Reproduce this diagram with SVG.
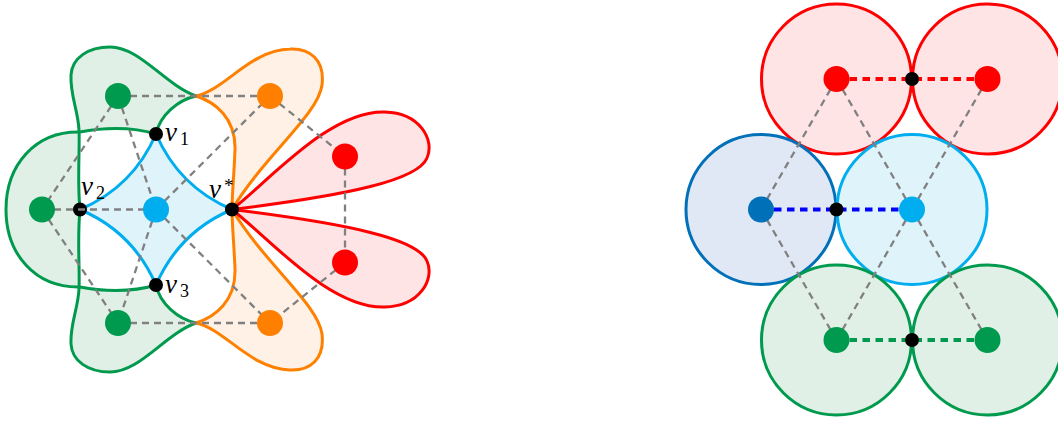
<svg xmlns="http://www.w3.org/2000/svg" width="1058" height="423" viewBox="0 0 1058 423">
<style>
.gf{fill:#e1f0e6;stroke:none}
.gs{fill:none;stroke:#009a4e;stroke-width:3}
.of{fill:#fff1e5;stroke:#ff8000;stroke-width:3}
.rf{fill:#fee4e4;stroke:#ff0000;stroke-width:3}
.lb{fill:#dff3fb;stroke:#00aeef;stroke-width:3}
.db{fill:#e1e8f5;stroke:#0070b8;stroke-width:3}
.gc{fill:#e1f0e6;stroke:#009a4e;stroke-width:3}
.dash{fill:none;stroke:#808080;stroke-width:2.3;stroke-dasharray:7 5}
.cd{fill:none;stroke-width:4;stroke-dasharray:7.5 5.5}
.lbl{font-family:"Liberation Serif","DejaVu Serif",serif;font-style:italic;fill:#000}
.sub{font-family:"Liberation Serif","DejaVu Serif",serif;fill:#000}
</style>
<rect width="1058" height="423" fill="#fff"/>

<!-- left figure: regions -->
<g id="green-top">
<path class="gf" d="M 156,134 C 130,126 100,128 79,131 C 78,110 70,95 71,75 C 72,58 88,47 110,47 C 140,47 165,85 196,96 C 178,100 160,115 156,134 Z"/>
</g>
<g id="green-left">
<path class="gf" d="M 80,132 C 35,131 6,165 6,209.5 C 6,254 35,288 80,287 C 80,269 77,239 80,209.5 C 77,180 80,150 80,132 Z"/>
</g>
<g id="green-bottom">
<path class="gf" d="M 156,285 C 130,293 100,291 79,288 C 78,309 70,324 71,344 C 72,361 88,372 110,372 C 140,372 165,334 196,323 C 178,319 160,304 156,285 Z"/>
</g>
<g id="green-strokes">
<path class="gs" d="M 80,209.5 C 77,180 80,150 79,130 C 78,110 70,95 71,75 C 72,58 88,47 110,47 C 140,47 165,85 196,96 C 178,100 160,115 156,134"/>
<path class="gs" d="M 156,134 C 130,126 100,128 80,132 C 35,131 6,165 6,209.5 C 6,254 35,288 80,287 C 100,291 130,293 156,285"/>
<path class="gs" d="M 80,209.5 C 77,239 80,269 79,289 C 78,309 70,324 71,344 C 72,361 88,372 110,372 C 140,372 165,334 196,323 C 178,319 160,304 156,285"/>
</g>
<g id="orange-top">
<path class="of" d="M 232,209.5 C 232,195 234,175 235,150 C 236,118 215,102 196,96 C 225,90 250,50 290,49 C 310,48 325,60 322,85 C 318,115 265,155 232,209.5 Z"/>
</g>
<g id="orange-bottom">
<path class="of" d="M 232,209.5 C 232,224 234,244 235,269 C 236,301 215,317 196,323 C 225,329 250,369 290,370 C 310,371 325,359 322,334 C 318,304 265,264 232,209.5 Z"/>
</g>
<g id="red-top">
<path class="rf" d="M 232,209.5 C 270,180 330,110 385,112 C 420,113 435,140 427,158 C 418,180 350,195 232,209.5 Z"/>
</g>
<g id="red-bottom">
<path class="rf" d="M 232,209.5 C 270,239 330,309 385,307 C 420,306 435,279 427,261 C 418,239 350,224 232,209.5 Z"/>
</g>
<g id="lightblue-star">
<path class="lb" d="M 156,134 Q 179,187 232,209.5 Q 179,232 156,285 Q 133,232 80,209.5 Q 133,187 156,134 Z"/>
</g>

<!-- black vertices -->
<g id="v1"><circle cx="156" cy="134" r="7" fill="#000"/><text class="lbl" x="165" y="141" font-size="27">v</text><text class="sub" x="180" y="145" font-size="18">1</text></g>
<g id="v3"><circle cx="156" cy="285" r="7" fill="#000"/><text class="lbl" x="165" y="293" font-size="27">v</text><text class="sub" x="180" y="297" font-size="18">3</text></g>
<g id="vstar"><circle cx="232" cy="209.5" r="7" fill="#000"/><text class="lbl" x="209" y="198" font-size="27">v</text><text class="sub" x="224" y="192" font-size="19">*</text></g>
<g id="v2"><circle cx="80" cy="209.5" r="7" fill="#000"/><text class="lbl" x="81" y="195" font-size="27">v</text><text class="sub" x="96" y="199" font-size="18">2</text></g>

<!-- connectors -->
<g id="connectors">
<line class="dash" x1="118" y1="96" x2="270" y2="96"/>
<line class="dash" x1="118" y1="96" x2="42" y2="209.5"/>
<line class="dash" x1="118" y1="96" x2="156" y2="209.5"/>
<line class="dash" x1="156" y1="209.5" x2="270" y2="96"/>
<line class="dash" x1="42" y1="209.5" x2="156" y2="209.5"/>
<line class="dash" x1="42" y1="209.5" x2="118" y2="323"/>
<line class="dash" x1="156" y1="209.5" x2="118" y2="323"/>
<line class="dash" x1="156" y1="209.5" x2="270" y2="323"/>
<line class="dash" x1="118" y1="323" x2="270" y2="323"/>
<line class="dash" x1="270" y1="96" x2="345" y2="156.5"/>
<line class="dash" x1="345" y1="156.5" x2="345" y2="262.5"/>
<line class="dash" x1="345" y1="262.5" x2="270" y2="323"/>
</g>

<!-- left colored nodes -->
<g id="n-green1"><circle cx="118" cy="96" r="13" fill="#009a4e"/></g>
<g id="n-green2"><circle cx="42" cy="209.5" r="13" fill="#009a4e"/></g>
<g id="n-green3"><circle cx="118" cy="323" r="13" fill="#009a4e"/></g>
<g id="n-center"><circle cx="156" cy="209.5" r="13" fill="#00aeef"/></g>
<g id="n-orange1"><circle cx="270" cy="96" r="13" fill="#ff8000"/></g>
<g id="n-orange2"><circle cx="270" cy="323" r="13" fill="#ff8000"/></g>
<g id="n-red1"><circle cx="345" cy="156.5" r="13" fill="#ff0000"/></g>
<g id="n-red2"><circle cx="345" cy="262.5" r="13" fill="#ff0000"/></g>

<!-- right figure -->
<g id="disk-red1"><circle class="rf" cx="836.5" cy="79" r="75"/></g>
<g id="disk-red2"><circle class="rf" cx="987.5" cy="79" r="75"/></g>
<g id="disk-darkblue"><circle class="db" cx="761" cy="209.5" r="75"/></g>
<g id="disk-lightblue"><circle class="lb" cx="912" cy="209.5" r="75"/></g>
<g id="disk-green1"><circle class="gc" cx="836.5" cy="340" r="75"/></g>
<g id="disk-green2"><circle class="gc" cx="987.5" cy="340" r="75"/></g>

<g id="connectors-right">
<line class="dash" x1="836.5" y1="79" x2="761" y2="209.5"/>
<line class="dash" x1="836.5" y1="79" x2="912" y2="209.5"/>
<line class="dash" x1="987.5" y1="79" x2="912" y2="209.5"/>
<line class="dash" x1="761" y1="209.5" x2="836.5" y2="340"/>
<line class="dash" x1="912" y1="209.5" x2="836.5" y2="340"/>
<line class="dash" x1="912" y1="209.5" x2="987.5" y2="340"/>
<line class="cd" stroke="#ff0000" x1="836.5" y1="79" x2="987.5" y2="79"/>
<line class="cd" stroke="#0000ff" x1="761" y1="209.5" x2="912" y2="209.5"/>
<line class="cd" stroke="#009a4e" x1="836.5" y1="340" x2="987.5" y2="340"/>
</g>

<g id="r-red1"><circle cx="836.5" cy="79" r="13" fill="#ff0000"/></g>
<g id="r-red2"><circle cx="987.5" cy="79" r="13" fill="#ff0000"/></g>
<g id="r-darkblue"><circle cx="761" cy="209.5" r="13" fill="#0070b8"/></g>
<g id="r-lightblue"><circle cx="912" cy="209.5" r="13" fill="#00aeef"/></g>
<g id="r-green1"><circle cx="836.5" cy="340" r="13" fill="#009a4e"/></g>
<g id="r-green2"><circle cx="987.5" cy="340" r="13" fill="#009a4e"/></g>
<g id="r-touch1"><circle cx="912" cy="79" r="7" fill="#000"/></g>
<g id="r-touch2"><circle cx="836.5" cy="209.5" r="7" fill="#000"/></g>
<g id="r-touch3"><circle cx="912" cy="340" r="7" fill="#000"/></g>
</svg>
